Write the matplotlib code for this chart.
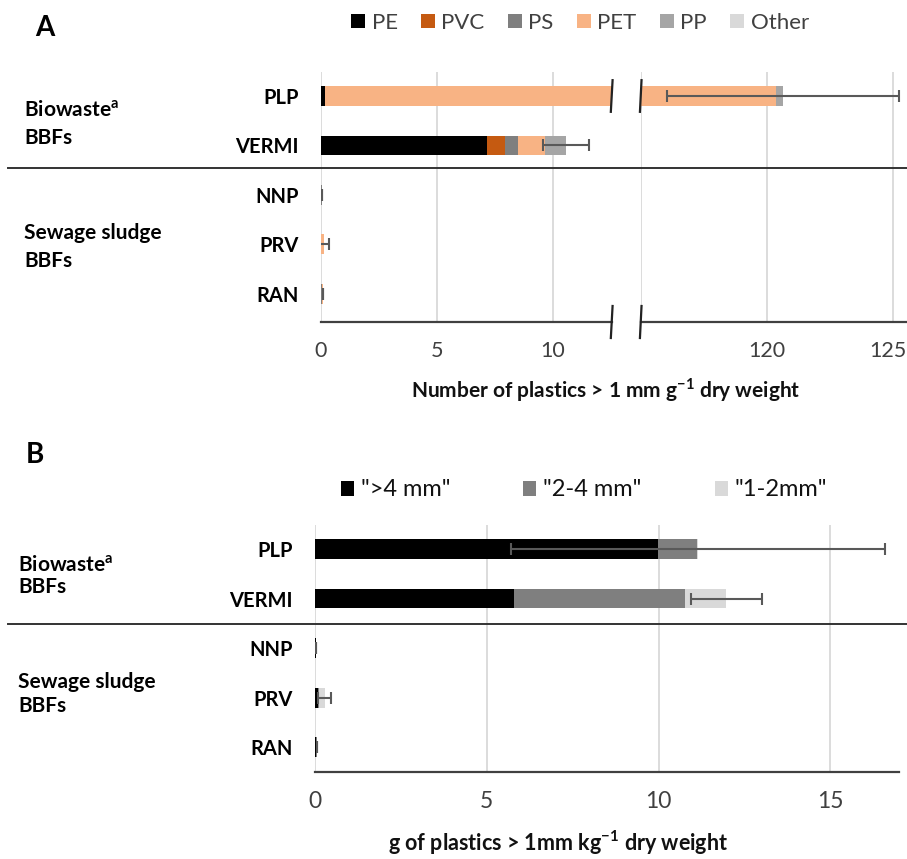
import matplotlib
matplotlib.use("Agg")
import matplotlib.pyplot as plt
import matplotlib.transforms as mtransforms
from matplotlib.patches import Patch
from matplotlib.lines import Line2D
import numpy as np

plt.rcParams['font.family'] = ['Lato', 'DejaVu Sans']
plt.rcParams['mathtext.fontset'] = 'custom'
plt.rcParams['mathtext.rm'] = 'Lato'
plt.rcParams['mathtext.bf'] = 'Lato:bold'

# ---------------- data ----------------
samples = ['PLP', 'VERMI', 'NNP', 'PRV', 'RAN']

# Panel A: number of plastics > 1 mm per g dry weight, by polymer
polymers = ['PE', 'PVC', 'PS', 'PET', 'PP', 'Other']
a_pe = [0.17, 7.15, 0.00, 0.02, 0.01]
a_pvc = [0.00, 0.77, 0.00, 0.00, 0.00]
a_ps = [0.00, 0.55, 0.03, 0.00, 0.04]
a_pet = [120.20, 1.20, 0.00, 0.10, 0.05]
a_pp = [0.28, 0.88, 0.00, 0.00, 0.00]
a_other = [0.00, 0.00, 0.00, 0.00, 0.00]
a_err = [4.6, 1.0, 0.0, 0.24, 0.0]
a_ticks_left = [0, 5, 10]
a_ticks_right = [115, 120, 125]
a_ticklabels_right = ['', '120', '125']

# Panel B: g of plastics > 1 mm per kg dry weight, by size class
sizes = ['">4 mm"', '"2-4 mm"', '"1-2mm"']
b_gt4 = [9.98, 5.80, 0.02, 0.10, 0.03]
b_2to4 = [1.15, 4.97, 0.02, 0.02, 0.02]
b_1to2 = [0.02, 1.20, 0.00, 0.16, 0.00]
b_err = [5.45, 1.03, 0.0, 0.18, 0.0]
b_ticks = [0, 5, 10, 15]

groups = ['Biowaste$^{\\mathbf{a}}$\nBBFs', 'Sewage sludge\nBBFs']

# ---------------- styles ----------------
poly_colors = ['#000000', '#C55A11', '#7F7F7F', '#F8B384', '#A5A5A5', '#D9D9D9']
size_colors = ['#000000', '#7F7F7F', '#D9D9D9']
grid_c = '#D9D9D9'
axis_c = '#404040'
txt_c = '#404040'
err_c = '#595959'

W, H = 907, 859
fig = plt.figure(figsize=(W / 100, H / 100), dpi=100)


def rect(x0, y0, x1, y1):
    return [x0 / W, 1 - y1 / H, (x1 - x0) / W, (y1 - y0) / H]


def fx(x):
    return x / W


def fy(y):
    return 1 - y / H


def style_axis(ax, xlim, ylim, ticks, labels=None, show_y=True, tsize=15.5):
    ax.set_xlim(*xlim)
    ax.set_ylim(*ylim)
    ax.set_xticks(ticks)
    if labels is not None:
        ax.set_xticklabels(labels)
    ax.grid(axis='x', color=grid_c, lw=1.3)
    ax.set_axisbelow(True)
    for s in ['top', 'right', 'left']:
        ax.spines[s].set_visible(False)
    ax.spines['bottom'].set_color(axis_c)
    ax.spines['bottom'].set_linewidth(1.6)
    ax.tick_params(axis='x', length=0, pad=14, labelsize=tsize, labelcolor=txt_c)
    ax.tick_params(axis='y', length=0, pad=16)
    ypos = np.arange(len(samples))
    ax.set_yticks(ypos)
    if show_y:
        ax.set_yticklabels(samples, fontsize=14.5, fontweight='bold', color='black')
    else:
        ax.set_yticklabels([])


def stacked(ax, series, colors, err):
    ypos = np.arange(len(samples))
    left = np.zeros(len(samples))
    for vals, c in zip(series, colors):
        ax.barh(ypos, vals, left=left, height=0.4, color=c, edgecolor='none')
        left = left + np.array(vals)
    ax.errorbar(left, ypos, xerr=err, fmt='none', ecolor=err_c, elinewidth=1.5,
                capsize=4, capthick=1.5, zorder=5)


# ---------------- Panel A ----------------
ylimA = (4.57, -0.485)
axA1 = fig.add_axes(rect(321, 72, 612, 322))
axA2 = fig.add_axes(rect(641, 72, 907, 322))
seriesA = [a_pe, a_pvc, a_ps, a_pet, a_pp, a_other]
for ax in (axA1, axA2):
    stacked(ax, seriesA, poly_colors, a_err)
style_axis(axA1, (0, 12.54), ylimA, a_ticks_left)
style_axis(axA2, (115, 125.55), ylimA, a_ticks_right, a_ticklabels_right, show_y=False)
# nudge the last tick label so it stays inside the figure
last = axA2.get_xticklabels()[-1]
last.set_transform(last.get_transform() +
                   mtransforms.ScaledTranslation(-5 / 100, 0, fig.dpi_scale_trans))

# break marks (axis-break decoration)
for ax, xa in ((axA1, 1.0), (axA2, 0.0)):
    tr = mtransforms.blended_transform_factory(ax.transAxes, ax.transData)
    ax.plot([xa - 0.004, xa + 0.002], [0.32, -0.32], transform=tr,
            color='#222222', lw=1.6, clip_on=False, zorder=6)
    ax.plot([xa - 0.004, xa + 0.002], [-0.064, 0.064], transform=ax.transAxes,
            color='#222222', lw=1.6, clip_on=False, zorder=6)

# separator
fig.add_artist(Line2D([fx(8), fx(907)], [fy(168), fy(168)], color='#333333', lw=1.4))

fig.text(fx(35), fy(28), 'A', fontsize=20, fontweight='bold', ha='left', va='center')
fig.text(fx(24), fy(124), groups[0], fontsize=15, fontweight='bold', ha='left', va='center',
         linespacing=1.5)
fig.text(fx(24), fy(247), groups[1], fontsize=15, fontweight='bold', ha='left', va='center',
         linespacing=1.5)
fig.text(fx(606), fy(390), 'Number of plastics > 1 mm g$^{\\mathbf{-1}}$ dry weight',
         fontsize=15, fontweight='bold', ha='center', va='center', color='#111111')

handlesA = [Patch(facecolor=c, edgecolor='none') for c in poly_colors]
legA = fig.legend(handlesA, polymers, loc='center', bbox_to_anchor=(fx(580), fy(23)),
                  ncol=6, frameon=False, fontsize=16, handlelength=0.62, handleheight=0.62,
                  handletextpad=0.3, columnspacing=1.05, labelcolor=txt_c)

# ---------------- Panel B ----------------
ylimB = (4.5, -0.485)
axB = fig.add_axes(rect(315, 525, 899, 772))
stacked(axB, [b_gt4, b_2to4, b_1to2], size_colors, b_err)
style_axis(axB, (0, 17), ylimB, b_ticks, tsize=16.5)

fig.add_artist(Line2D([fx(8), fx(907)], [fy(624), fy(624)], color='#333333', lw=1.4))

fig.text(fx(26), fy(455), 'B', fontsize=20, fontweight='bold', ha='left', va='center')
fig.text(fx(18), fy(576), groups[0], fontsize=15, fontweight='bold', ha='left', va='center',
         linespacing=1.1)
fig.text(fx(18), fy(694), groups[1], fontsize=15, fontweight='bold', ha='left', va='center',
         linespacing=1.25)
fig.text(fx(558), fy(843), 'g of plastics > 1mm kg$^{\\mathbf{-1}}$ dry weight',
         fontsize=15.5, fontweight='bold', ha='center', va='center', color='#111111')

handlesB = [Patch(facecolor=c, edgecolor='none') for c in size_colors]
legB = fig.legend(handlesB, sizes, loc='center', bbox_to_anchor=(fx(584), fy(490)),
                  ncol=3, frameon=False, fontsize=17, handlelength=0.55, handleheight=0.6,
                  handletextpad=0.3, columnspacing=3.1, labelcolor='#111111')

fig.savefig('out.png', dpi=100, facecolor='white')
